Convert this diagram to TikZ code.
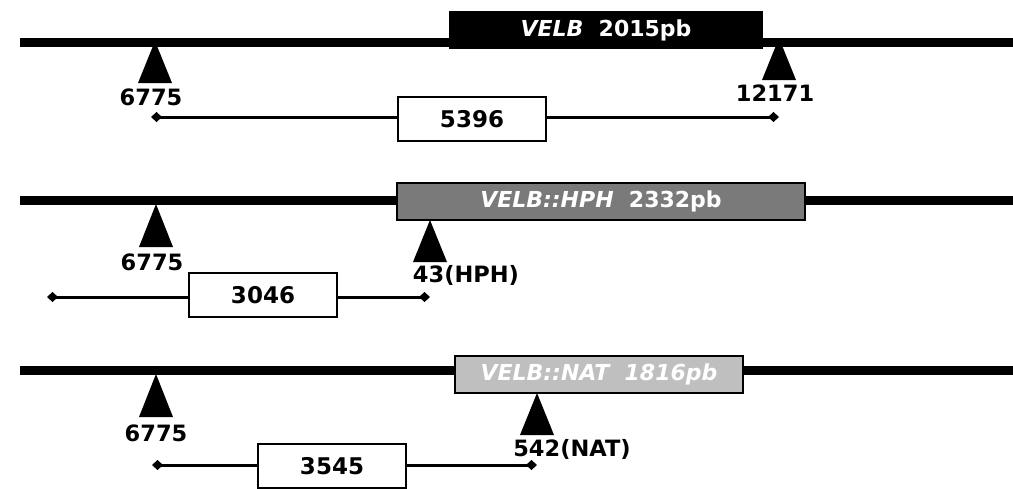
\documentclass[tikz,border=0pt]{standalone}
\usepackage{fontspec}
\setmainfont{DejaVu Sans}
\usepackage{tikz}
\usetikzlibrary{arrows.meta, positioning, calc}

\begin{document}
\begin{tikzpicture}[x=1pt, y=-1pt,
    chrom/.style={line width=9pt},
    gene/.style={draw, line width=2pt, minimum height=37pt, inner sep=0pt, text=white, font=\fontsize{22}{24}\selectfont\bfseries},
    span/.style={draw, fill=white, line width=1.5pt, minimum width=148pt, minimum height=44pt, inner sep=0pt, font=\fontsize{23}{25}\selectfont\bfseries},
    cut/.style={font=\fontsize{22.5}{24}\selectfont\bfseries, inner sep=0pt},
    bar/.style={line width=3pt, {Diamond[length=11pt,width=10pt]}-{Diamond[length=11pt,width=10pt]}}
  ]
  \useasboundingbox (0,0) rectangle (1013,488);
  % row 1: VELB
  \coordinate (c1a) at (20,42);
  \coordinate (c1b) at (1013,42);
  \draw[chrom] (c1a) -- (c1b);
  \node[gene, fill=black, minimum width=312pt, minimum height=36pt] (g1) at (606,30) {\textit{VELB}\ \ 2015pb};
  \coordinate (t1a) at (155,41);
  \coordinate (t1b) at (779,38);
  \fill (t1a) -- ++(-17,42) -- ++(34,0) -- cycle;
  \fill (t1b) -- ++(-17,42) -- ++(34,0) -- cycle;
  \node[cut] (l1a) at (151,97) {6775};
  \node[cut] (l1b) at (775,93) {12171};
  \coordinate (b1l) at (151,117);
  \coordinate (b1r) at (779,117);
  \draw[bar] (b1l) -- (b1r);
  \node[span] (s1) at (472,119) {5396};
  % row 2: VELB::HPH
  \coordinate (c2a) at (20,200);
  \coordinate (c2b) at (1013,200);
  \draw[chrom] (c2a) -- (c2b);
  \node[gene, fill=black!52, minimum width=408pt] (g2) at (601,201.5) {\textit{VELB::HPH}\ \ 2332pb};
  \coordinate (t2a) at (156,204);
  \coordinate (t2b) at (430,220);
  \fill (t2a) -- ++(-17,43) -- ++(34,0) -- cycle;
  \fill (t2b) -- ++(-17,42) -- ++(34,0) -- cycle;
  \node[cut] (l2a) at (152,262) {6775};
  \node[cut] (l2b) at (466,275) {43(HPH)};
  \coordinate (b2l) at (47,297);
  \coordinate (b2r) at (430,297);
  \draw[bar] (b2l) -- (b2r);
  \node[span] (s2) at (263,295) {3046};
  % row 3: VELB::NAT
  \coordinate (c3a) at (20,370);
  \coordinate (c3b) at (1013,370);
  \draw[chrom] (c3a) -- (c3b);
  \node[gene, fill=black!25, minimum width=288pt] (g3) at (599,374) {\textit{VELB::NAT\ \ 1816pb}};
  \coordinate (t3a) at (156,374);
  \coordinate (t3b) at (537,393);
  \fill (t3a) -- ++(-17,43) -- ++(34,0) -- cycle;
  \fill (t3b) -- ++(-17,42) -- ++(34,0) -- cycle;
  \node[cut] (l3a) at (156,433) {6775};
  \node[cut] (l3b) at (572,449) {542(NAT)};
  \coordinate (b3l) at (152,465);
  \coordinate (b3r) at (537,465);
  \draw[bar] (b3l) -- (b3r);
  \node[span] (s3) at (332,466) {3545};
\end{tikzpicture}
\end{document}
